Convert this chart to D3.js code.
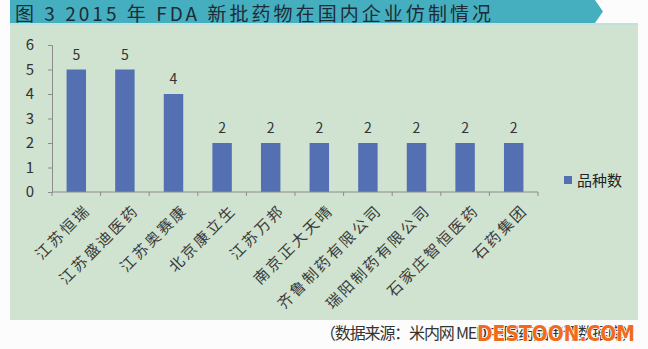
<!DOCTYPE html>
<html lang="zh">
<head>
<meta charset="UTF-8">
<title>图 3 2015 年 FDA 新批药物在国内企业仿制情况</title>
<script src="https://d3js.org/d3.v7.min.js"></script>
<style>
  body { margin: 0; background: #fbfcfb; font-family: "Noto Sans CJK SC", sans-serif; }
  svg { display: block; }
</style>
</head>
<body>
<svg width="648" height="349"></svg>
<script>
// 数据
const companies = ["江苏恒瑞", "江苏盛迪医药", "江苏奥赛康", "北京康立生", "江苏万邦",
  "南京正大天晴", "齐鲁制药有限公司", "瑞阳制药有限公司", "石家庄智恒医药", "石药集团"];
const counts = [5, 5, 4, 2, 2, 2, 2, 2, 2, 2];
const yTicks = [0, 1, 2, 3, 4, 5, 6];
const seriesName = "品种数";

const svg = d3.select("svg");

// 背景面板
svg.append("rect").attr("x", 10).attr("y", 25).attr("width", 628).attr("height", 295)
  .attr("fill", "#cfe3d0");

// 标题条
svg.append("path")
  .attr("d", "M10,0 H595 L603,11.5 L595,23 H10 Z")
  .attr("fill", "#46afbf");
svg.append("rect").attr("x", 10).attr("y", 23).attr("width", 628).attr("height", 2).attr("fill", "#bfe3dc");
svg.append("text").attr("x", 15).attr("y", 21)
  .attr("font-size", 19).attr("fill", "#1d2b36")
  .attr("textLength", 476).attr("lengthAdjust", "spacing")
  .text("图 3  2015 年 FDA 新批药物在国内企业仿制情况");

const x = d3.scaleBand().domain(companies).range([52, 538]).paddingInner(0.6).paddingOuter(0.3);
const xb = d3.scaleBand().domain(companies).range([52, 538]);
const y = d3.scaleLinear().domain([0, 6]).range([192, 45]);

// 柱子
svg.selectAll(".bar").data(companies).enter().append("rect")
  .attr("class", "bar")
  .attr("x", d => x(d))
  .attr("width", x.bandwidth())
  .attr("y", (d, i) => y(counts[i]))
  .attr("height", (d, i) => y(0) - y(counts[i]))
  .attr("fill", "#5470b2");

// 数值标签
svg.selectAll(".val").data(companies).enter().append("text")
  .attr("x", d => x(d) + x.bandwidth() / 2)
  .attr("y", (d, i) => y(counts[i]) - 10)
  .attr("text-anchor", "middle")
  .attr("font-size", 14).attr("fill", "#333")
  .text((d, i) => counts[i]);

// Y 轴
const yAxis = svg.append("g").attr("transform", "translate(52,0)")
  .call(d3.axisLeft(y).tickValues(yTicks).tickSize(4).tickPadding(14).tickFormat(d3.format("d")));
yAxis.select(".domain").attr("stroke", "#8c8c8c");
yAxis.selectAll(".tick line").attr("stroke", "#8c8c8c");
yAxis.selectAll(".tick text").attr("font-size", 15).attr("fill", "#333")
  .attr("font-family", "Noto Sans CJK SC, sans-serif");

// X 轴
const xAxis = svg.append("g").attr("transform", "translate(0,192)");
xAxis.append("line").attr("x1", 52).attr("x2", 538).attr("stroke", "#8c8c8c");
xAxis.selectAll(".xt").data(companies.concat([null])).enter().append("line")
  .attr("x1", (d, i) => i < companies.length ? xb(d) : xb.range()[1])
  .attr("x2", (d, i) => i < companies.length ? xb(d) : xb.range()[1])
  .attr("y1", 0).attr("y2", 4).attr("stroke", "#8c8c8c");
xAxis.selectAll(".xl").data(companies).enter().append("text")
  .attr("transform", d => `translate(${xb(d) + xb.bandwidth() / 2 + 15},19) rotate(-45)`)
  .attr("text-anchor", "end")
  .attr("font-size", 15).attr("letter-spacing", 2.5).attr("fill", "#3a3a3a")
  .text(d => d);

// 图例
svg.append("rect").attr("x", 564).attr("y", 176).attr("width", 8).attr("height", 8).attr("fill", "#5470b2");
svg.append("text").attr("x", 577).attr("y", 186).attr("font-size", 15).attr("fill", "#222").text(seriesName);

// 数据来源
svg.append("text").attr("x", 320).attr("y", 339)
  .attr("font-size", 16).attr("fill", "#333")
  .attr("textLength", 318).attr("lengthAdjust", "spacing")
  .text("（数据来源：米内网 MED 中国药品审评数据库）");
svg.append("text").attr("x", 477).attr("y", 341)
  .attr("font-size", 21).attr("font-weight", "bold").attr("fill", "#f26a1b")
  .attr("font-family", "DejaVu Sans, sans-serif")
  .attr("textLength", 158).attr("lengthAdjust", "spacingAndGlyphs")
  .attr("stroke", "#fff").attr("stroke-width", 1.5).attr("paint-order", "stroke")
  .text("DESTOON.COM");
</script>
</body>
</html>
